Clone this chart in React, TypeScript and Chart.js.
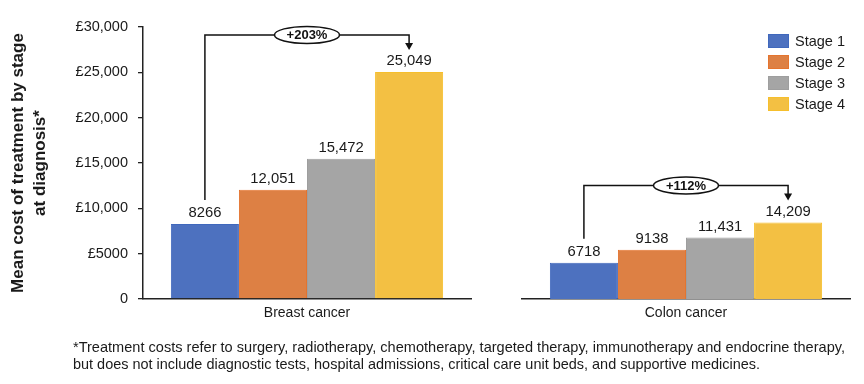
import React, { useEffect, useRef } from "react";
import { Chart, registerables } from "chart.js";

Chart.register(...registerables);

const stages = ["Stage 1", "Stage 2", "Stage 3", "Stage 4"];
const breastCategory = ["Breast cancer"];
const colonCategory = ["Colon cancer"];
const breastValues = [8266, 12051, 15472, 25049];
const colonValues = [6718, 9138, 11431, 14209];
const changeLabels = ["+203%", "+112%"];
const yTicks = [0, 5000, 10000, 15000, 20000, 25000, 30000];
const yTitle = ["Mean cost of treatment by stage", "at diagnosis*"];
const footnoteLines = [
  "*Treatment costs refer to surgery, radiotherapy, chemotherapy, targeted therapy, immunotherapy and endocrine therapy,",
  "but does not include diagnostic tests, hospital admissions, critical care unit beds, and supportive medicines.",
];

const fills = ["#4D71BF", "#DD8044", "#A5A5A5", "#F3C043"];
const borders = ["#4068BC", "#E5742E", "#9E9E9E", "#F6BF2C"];
const FONT = "Arial, 'Liberation Sans', sans-serif";
const TEXT = "#1a1a1a";

const fmt = (v: number) => (v >= 10000 ? v.toLocaleString("en-US") : String(v));

const valueLabelPlugin = {
  id: "valueLabels",
  afterDatasetsDraw(chart: any) {
    const ctx = chart.ctx;
    ctx.save();
    ctx.font = `14.8px ${FONT}`;
    ctx.fillStyle = TEXT;
    ctx.textAlign = "center";
    ctx.textBaseline = "middle";
    chart.data.datasets.forEach((ds: any, i: number) => {
      const bar = chart.getDatasetMeta(i).data[0];
      ctx.fillText(fmt(ds.data[0]), bar.x, bar.y - 11);
    });
    ctx.restore();
  },
};

const makeBracketPlugin = (label: string) => ({
  id: "bracket",
  afterDatasetsDraw(chart: any) {
    const ctx = chart.ctx;
    const b1 = chart.getDatasetMeta(0).data[0];
    const b4 = chart.getDatasetMeta(3).data[0];
    const topY = b4.y - 37;
    const tipY = b4.y - 22;
    ctx.save();
    ctx.strokeStyle = "#111";
    ctx.fillStyle = "#111";
    ctx.lineWidth = 1.5;
    ctx.beginPath();
    ctx.moveTo(b1.x, b1.y - 24);
    ctx.lineTo(b1.x, topY);
    ctx.lineTo(b4.x, topY);
    ctx.lineTo(b4.x, tipY - 6);
    ctx.stroke();
    ctx.beginPath();
    ctx.moveTo(b4.x - 4, tipY - 7);
    ctx.lineTo(b4.x + 4, tipY - 7);
    ctx.lineTo(b4.x, tipY);
    ctx.closePath();
    ctx.fill();
    const cx = (b1.x + b4.x) / 2;
    ctx.beginPath();
    ctx.ellipse(cx, topY, 32.5, 8.5, 0, 0, Math.PI * 2);
    ctx.fillStyle = "#fff";
    ctx.fill();
    ctx.stroke();
    ctx.fillStyle = "#111";
    ctx.font = `bold 13px ${FONT}`;
    ctx.textAlign = "center";
    ctx.textBaseline = "middle";
    ctx.fillText(label, cx, topY + 0.5);
    ctx.restore();
  },
});

const legendPlugin = {
  id: "customLegend",
  afterDraw(chart: any) {
    const ctx = chart.ctx;
    const { right, top } = chart.chartArea;
    const x = right - 82;
    ctx.save();
    ctx.font = `14.5px ${FONT}`;
    ctx.textAlign = "left";
    ctx.textBaseline = "middle";
    chart.data.datasets.forEach((ds: any, i: number) => {
      const y = top + 7 + i * 21;
      ctx.fillStyle = ds.backgroundColor;
      ctx.fillRect(x, y, 21, 14);
      ctx.strokeStyle = ds.borderColor;
      ctx.lineWidth = 1;
      ctx.strokeRect(x + 0.5, y + 0.5, 20, 13);
      ctx.fillStyle = TEXT;
      ctx.fillText(ds.label, x + 27, y + 7.5);
    });
    ctx.restore();
  },
};

const makeDatasets = (values: number[]) =>
  stages.map((s, i) => ({
    label: s,
    data: [values[i]],
    backgroundColor: fills[i],
    borderColor: borders[i],
    borderWidth: 1,
    barPercentage: 1,
    categoryPercentage: 0.83,
  }));

const xScale = {
  grid: { display: false, drawTicks: false },
  border: { display: true, color: "#222", width: 1.5 },
  ticks: { font: { size: 14, family: FONT }, color: TEXT, padding: 6 },
  afterFit: (s: any) => {
    s.height = 31;
  },
};

export default function App() {
  const leftRef = useRef<HTMLCanvasElement>(null);
  const rightRef = useRef<HTMLCanvasElement>(null);

  useEffect(() => {
    const left = new Chart(leftRef.current!, {
      type: "bar",
      data: { labels: breastCategory, datasets: makeDatasets(breastValues) },
      options: {
        animation: false,
        responsive: false,
        layout: { padding: { top: 27, right: 9, left: 0, bottom: 0 } },
        plugins: { legend: { display: false }, tooltip: { enabled: false } },
        scales: {
          x: xScale as any,
          y: {
            min: 0,
            max: 30000,
            afterBuildTicks: (s: any) => {
              s.ticks = yTicks.map((v) => ({ value: v }));
            },
            afterFit: (s: any) => {
              s.width = 143;
            },
            grid: { display: true, drawOnChartArea: false, drawTicks: true, tickLength: 5, color: "#222", lineWidth: 1.3 },
            border: { display: true, color: "#222", width: 1.5 },
            ticks: {
              padding: 10,
              color: TEXT,
              font: { size: 14.5, family: FONT },
              callback: (v: any) => (v === 0 ? "0" : v < 10000 ? `£${v}` : `£${Number(v).toLocaleString("en-US")}`),
            },
            title: {
              display: true,
              text: yTitle,
              color: TEXT,
              font: { size: 17, weight: "bold", family: FONT, lineHeight: 1.3 },
              padding: { top: 7, bottom: 0 },
            },
          },
        },
      },
      plugins: [valueLabelPlugin, makeBracketPlugin(changeLabels[0])],
    } as any);

    const right = new Chart(rightRef.current!, {
      type: "bar",
      data: { labels: colonCategory, datasets: makeDatasets(colonValues) },
      options: {
        animation: false,
        responsive: false,
        layout: { padding: { top: 27, right: 14, left: 42, bottom: 0 } },
        plugins: { legend: { display: false }, tooltip: { enabled: false } },
        scales: {
          x: xScale as any,
          y: { display: false, min: 0, max: 50500 },
        },
      },
      plugins: [valueLabelPlugin, makeBracketPlugin(changeLabels[1]), legendPlugin],
    } as any);

    return () => {
      left.destroy();
      right.destroy();
    };
  }, []);

  return (
    <div style={{ position: "fixed", left: 0, top: 0, width: 864, height: 384, background: "#fff", overflow: "hidden" }}>
      <canvas ref={leftRef} width={480} height={330} style={{ position: "absolute", left: 0, top: 0, width: 480, height: 330 }} />
      <canvas ref={rightRef} width={384} height={330} style={{ position: "absolute", left: 480, top: 0, width: 384, height: 330 }} />
      <svg width={864} height={384} style={{ position: "absolute", left: 0, top: 0, pointerEvents: "none" }}>
        <text x={73} y={352} fontFamily={FONT} fontSize={15} fill={TEXT} textLength={772} lengthAdjust="spacingAndGlyphs">
          {footnoteLines[0]}
        </text>
        <text x={73} y={369} fontFamily={FONT} fontSize={15} fill={TEXT} textLength={687} lengthAdjust="spacingAndGlyphs">
          {footnoteLines[1]}
        </text>
      </svg>
    </div>
  );
}
